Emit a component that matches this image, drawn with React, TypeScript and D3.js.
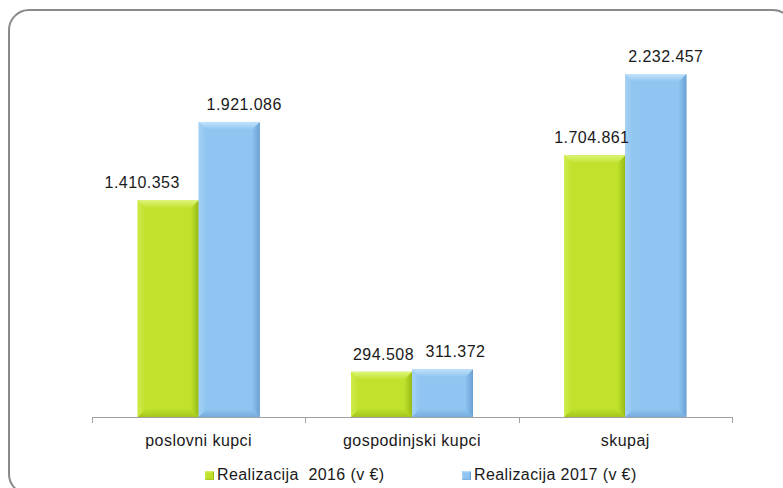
import React from "react";
import * as d3 from "d3";

const categories = ["poslovni kupci", "gospodinjski kupci", "skupaj"];
const series2016 = [1410353, 294508, 1704861];
const series2017 = [1921086, 311372, 2232457];
const seriesNames = ["Realizacija  2016 (v €)", "Realizacija 2017 (v €)"];

// layout: horizontal nudge of data labels (Excel-style overlap avoidance)
const labelNudge2016 = [-26, 2, -3];
const labelNudge2017 = [15, 13, 10];

const W = 783;
const H = 488;
const FONT = "'Liberation Sans', Arial, sans-serif";

const palettes = [
  { id: "g", main: "#c0e22c", top: "#def57a", left: "#cdeb4a", right: "#98ba16", bottom: "#a4c61c" },
  { id: "b", main: "#8fc5f0", top: "#c2e1fa", left: "#a4d1f5", right: "#6ba2d6", bottom: "#77addf" },
];

const fmt = (v: number) => d3.format(",")(v).replace(/,/g, ".");

function Defs() {
  return (
    <defs>
      {palettes.map((p) => (
        <React.Fragment key={p.id}>
          <linearGradient id={`${p.id}-top`} x1="0" y1="0" x2="0" y2="1">
            <stop offset="0" stopColor={p.top} />
            <stop offset="1" stopColor={p.main} />
          </linearGradient>
          <linearGradient id={`${p.id}-left`} x1="0" y1="0" x2="1" y2="0">
            <stop offset="0" stopColor={p.left} />
            <stop offset="1" stopColor={p.main} />
          </linearGradient>
          <linearGradient id={`${p.id}-right`} x1="0" y1="0" x2="1" y2="0">
            <stop offset="0" stopColor={p.main} />
            <stop offset="1" stopColor={p.right} />
          </linearGradient>
          <linearGradient id={`${p.id}-bottom`} x1="0" y1="0" x2="0" y2="1">
            <stop offset="0" stopColor={p.main} />
            <stop offset="1" stopColor={p.bottom} />
          </linearGradient>
        </React.Fragment>
      ))}
    </defs>
  );
}

function BevelBar({ x, y, w, h, pal, bevel = 8 }: { x: number; y: number; w: number; h: number; pal: any; bevel?: number }) {
  const b = Math.min(bevel, h / 2, w / 2);
  const p = (pts: number[][]) => pts.map((q) => q.join(",")).join(" ");
  return (
    <g>
      <rect x={x} y={y} width={w} height={h} fill={pal.main} />
      <polygon points={p([[x, y], [x + b, y + b], [x + b, y + h - b], [x, y + h]])} fill={`url(#${pal.id}-left)`} />
      <polygon points={p([[x + w, y], [x + w, y + h], [x + w - b, y + h - b], [x + w - b, y + b]])} fill={`url(#${pal.id}-right)`} />
      <polygon points={p([[x, y + h], [x + w, y + h], [x + w - b, y + h - b], [x + b, y + h - b]])} fill={`url(#${pal.id}-bottom)`} />
      <polygon points={p([[x, y], [x + w, y], [x + w - b, y + b], [x + b, y + b]])} fill={`url(#${pal.id}-top)`} />
      <line x1={x + w - 0.5} x2={x + w - 0.5} y1={y + 1} y2={y + h} stroke={pal.right} strokeOpacity={0.6} />
    </g>
  );
}

export default function App() {
  const x = d3.scaleBand<string>().domain(categories).range([92, 732]).paddingInner(0).paddingOuter(0);
  const y = d3.scaleLinear().domain([0, 2500000]).range([417, 33]);
  const barW = 61;
  const allSeries = [series2016, series2017];
  const nudges = [labelNudge2016, labelNudge2017];
  const boundaries = [...categories.map((c) => x(c) as number), 732];

  return (
    <svg width={W} height={H} style={{ position: "absolute", left: 0, top: 0, background: "#fff" }} fontFamily={FONT}>
      <Defs />
      <rect x={9} y={10} width={784} height={484} rx={20} ry={20} fill="#fff" stroke="#8a8a8a" strokeWidth={2} />
      {/* axis */}
      <line x1={92} x2={732} y1={417.5} y2={417.5} stroke="#a0a0a0" strokeWidth={1} />
      {boundaries.map((bx, i) => (
        <line key={i} x1={Math.round(bx) + 0.5} x2={Math.round(bx) + 0.5} y1={417} y2={423} stroke="#a0a0a0" strokeWidth={1} />
      ))}
      {categories.map((c, ci) => {
        const cx = (x(c) as number) + x.bandwidth() / 2;
        return (
          <g key={c}>
            {allSeries.map((s, si) => {
              const bx = cx - barW + si * barW;
              const top = y(s[ci]);
              return (
                <BevelBar key={si} x={bx} y={top} w={barW} h={y(0) - top} pal={palettes[si]} />
              );
            })}
            {allSeries.map((s, si) => {
              const bx = cx - barW + si * barW;
              const top = y(s[ci]);
              return (
                <text key={"t" + si} x={bx + barW / 2 + nudges[si][ci]} y={top - 12} textAnchor="middle" fontSize={16} letterSpacing={0.45} fill="#1a1a1a">
                  {fmt(s[ci])}
                </text>
              );
            })}
            <text x={cx} y={446} textAnchor="middle" fontSize={16} letterSpacing={0.45} fill="#1a1a1a">
              {c}
            </text>
          </g>
        );
      })}
      {/* legend */}
      {[205, 462].map((lx, i) => (
        <g key={i}>
          <BevelBar x={lx} y={471} w={9} h={9} pal={palettes[i]} bevel={2} />
          <text x={lx + 12} y={480} fontSize={16} letterSpacing={0.4} fill="#1a1a1a" style={{ whiteSpace: "pre" }}>
            {seriesNames[i]}
          </text>
        </g>
      ))}
    </svg>
  );
}
